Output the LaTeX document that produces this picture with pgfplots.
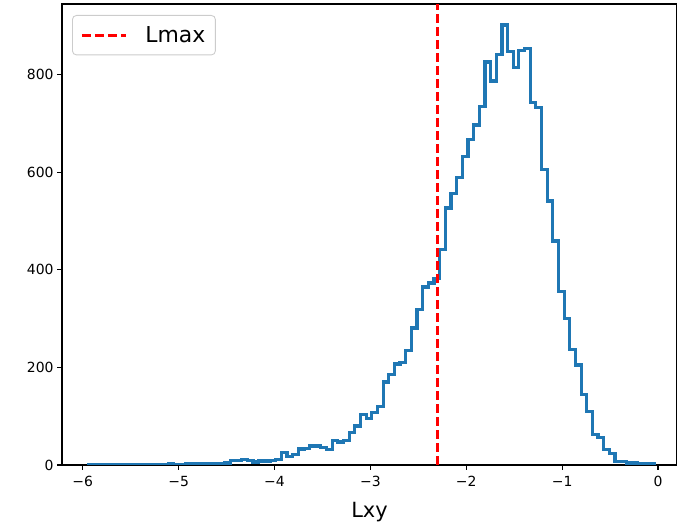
\documentclass[border=0pt]{standalone}
\usepackage{fontspec}
\setmainfont{DejaVu Sans}
\usepackage{pgfplots}
\pgfplotsset{compat=1.18}
\usepackage{pgfplotstable}
\definecolor{mplblue}{HTML}{1F77B4}
\pgfplotstableread{
x y
-5.935 0
-5.935 1
-5.876 0
-5.817 0
-5.758 1
-5.699 0
-5.640 1
-5.581 0
-5.522 1
-5.463 1
-5.404 0
-5.345 1
-5.286 1
-5.227 1
-5.168 1
-5.109 3
-5.050 1
-4.991 1
-4.932 2
-4.873 3
-4.814 3
-4.755 2
-4.696 3
-4.637 3
-4.578 3
-4.519 4
-4.460 10
-4.401 10
-4.342 11
-4.283 9
-4.224 6
-4.165 8
-4.106 8
-4.047 9
-3.988 12
-3.929 25
-3.870 18
-3.811 21
-3.752 33
-3.693 34
-3.634 39
-3.575 39
-3.516 36
-3.457 32
-3.398 51
-3.339 47
-3.280 51
-3.221 67
-3.162 80
-3.103 104
-3.044 95
-2.985 107
-2.926 120
-2.867 170
-2.808 185
-2.749 207
-2.690 210
-2.631 234
-2.572 281
-2.513 319
-2.454 365
-2.395 373
-2.336 383
-2.277 441
-2.218 527
-2.159 556
-2.100 590
-2.041 632
-1.982 667
-1.923 697
-1.864 735
-1.805 826
-1.746 787
-1.687 842
-1.628 902
-1.569 848
-1.510 815
-1.451 849
-1.392 854
-1.333 743
-1.274 733
-1.215 605
-1.156 541
-1.097 459
-1.038 356
-0.979 300
-0.920 236
-0.861 205
-0.802 144
-0.743 109
-0.684 62
-0.625 57
-0.566 31
-0.507 23
-0.448 7
-0.389 7
-0.330 4
-0.271 4
-0.212 3
-0.153 3
-0.094 2
-0.035 2
-0.035 0
}\histdata
\begin{document}
\begin{tikzpicture}
\begin{axis}[
  scale only axis, width=615bp, height=461bp,
  at={(62bp,59bp)}, anchor=south west,
  xmin=-6.216, xmax=0.198, ymin=0, ymax=945,
  axis line style={line width=1.1bp},
  tick style={line width=1.1bp, black},
  major tick length=4.9bp, tick align=outside,
  xtick pos=left, ytick pos=left,
  xtick={-6,-5,-4,-3,-2,-1,0},
  xticklabels={−6,−5,−4,−3,−2,−1,0},
  ytick={0,200,400,600,800},
  yticklabels={0,200,400,600,800},
  ticklabel style={font=\fontsize{14}{16}\selectfont},
  xticklabel style={yshift=-3bp},
  xlabel={Lxy},
  xlabel style={font=\fontsize{21}{24}\selectfont, yshift=-8bp},
  legend style={at={(0,1)}, anchor=north west, xshift=10bp, yshift=-11bp,
    draw=black!20, rounded corners=4bp, line width=0.9bp,
    font=\fontsize{22}{25}\selectfont, inner xsep=8bp, inner ysep=9bp},
  legend image code/.code={\draw[#1] (0bp,0bp) -- (44bp,0bp); \path (60bp,0bp);},
  legend cell align=left,
]
\addplot[const plot mark left, color=mplblue, line width=3.2bp, line join=miter, forget plot] table[x=x,y=y] {\histdata};
\addplot[red, line width=3bp, dash pattern=on 9bp off 4bp] coordinates {(-2.30,0) (-2.30,945)};
\addlegendentry{Lmax}
\end{axis}
\pgfresetboundingbox
\useasboundingbox (0,0) rectangle (677bp,524bp);
\end{tikzpicture}
\end{document}
